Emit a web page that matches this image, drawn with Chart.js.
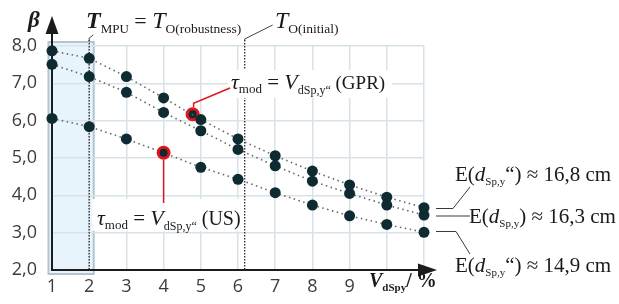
<!DOCTYPE html>
<html>
<head>
<meta charset="utf-8">
<script src="https://cdn.jsdelivr.net/npm/chart.js@4/dist/chart.umd.min.js"></script>
<style>
  html, body { margin: 0; padding: 0; background: #fff; }
</style>
</head>
<body>
<canvas id="beta-chart" width="619" height="304"></canvas>
<script>
// values
var xValues = [1, 2, 3, 4, 5, 6, 7, 8, 9, 10, 11];
var betaUpper = [7.87, 7.67, 7.18, 6.61, 6.03, 5.51, 5.06, 4.65, 4.28, 3.95, 3.67];
var betaMean = [7.51, 7.18, 6.76, 6.22, 5.73, 5.23, 4.79, 4.38, 4.05, 3.74, 3.47];
var betaLower = [6.06, 5.84, 5.51, 5.14, 4.75, 4.43, 4.07, 3.74, 3.45, 3.22, 3.01];
var gprX = [4.78];
var gprBeta = [6.17];
var usIndex = 3;
var xTickLabels = ["1", "2", "3", "4", "5", "6", "7", "8", "9"];
var yTickLabels = ["2,0", "3,0", "4,0", "5,0", "6,0", "7,0", "8,0"];
var tMpuX = 2;
var tInitialX = 6.18;

var dark = "#0e2b31";
var red = "#e3141d";
var serif = '"Liberation Serif", serif';

function points(ys) {
  return xValues.map(function (x, i) { return { x: x, y: ys[i] }; });
}

function dotted(color, width, dash) {
  return {
    showLine: true,
    borderColor: color,
    borderWidth: width,
    borderDash: dash,
    pointRadius: 5.5,
    pointBorderWidth: 0,
    pointBackgroundColor: dark,
    clip: false,
  };
}

// draws a run of text pieces: [text, font, yOffset]
function rich(ctx, x, y, parts) {
  parts.forEach(function (p) {
    ctx.font = p[1];
    ctx.fillText(p[0], x, y + (p[2] || 0));
    x += ctx.measureText(p[0]).width;
  });
  return x;
}

function line(ctx, pts) {
  ctx.beginPath();
  ctx.moveTo(pts[0][0], pts[0][1]);
  for (var i = 1; i < pts.length; i++) ctx.lineTo(pts[i][0], pts[i][1]);
  ctx.stroke();
}

var annotations = {
  id: "annotations",
  beforeDraw: function (chart) {
    var ctx = chart.ctx, xs = chart.scales.x, ys = chart.scales.y;
    var l = xs.getPixelForValue(1) - 3.5, r = xs.getPixelForValue(2) + 4.5;
    var t = ys.getPixelForValue(8) - 4, b = ys.getPixelForValue(2) + 4;
    ctx.save();
    ctx.fillStyle = "#e8f4fc";
    ctx.fillRect(l, t, r - l, b - t);
    ctx.strokeStyle = "#b2c4cd";
    ctx.lineWidth = 2;
    ctx.strokeRect(l, t, r - l, b - t);
    ctx.restore();
  },
  beforeDatasetsDraw: function (chart) {
    var ctx = chart.ctx, xs = chart.scales.x, ys = chart.scales.y;
    var left = xs.getPixelForValue(1), bottom = ys.getPixelForValue(2);
    var x2 = xs.getPixelForValue(tMpuX), x6 = xs.getPixelForValue(tInitialX);
    ctx.save();
    // marker lines
    ctx.strokeStyle = "#2a2a2a";
    ctx.lineWidth = 1.3;
    ctx.setLineDash([1.5, 1.5]);
    line(ctx, [[x2, 40], [x2, bottom]]);
    line(ctx, [[x6, 40], [x6, bottom]]);
    ctx.setLineDash([]);
    ctx.strokeStyle = "#444";
    ctx.lineWidth = 1;
    line(ctx, [[x2, 41], [x2, 38], [x2 + 4, 35]]);
    line(ctx, [[x6, 41], [x6, 39], [x6 + 28, 25]]);
    // white boxes behind the tau labels
    ctx.fillStyle = "#fff";
    ctx.fillRect(228, 70, 164, 28);
    ctx.fillRect(92, 199, 149, 32);
    // axes with arrows
    ctx.strokeStyle = "#1c1c1c";
    ctx.fillStyle = "#1c1c1c";
    ctx.lineWidth = 2;
    line(ctx, [[left, bottom + 1], [left, 30]]);
    line(ctx, [[left - 1, bottom], [422, bottom]]);
    ctx.beginPath();
    ctx.moveTo(left, 16); ctx.lineTo(left - 6.5, 34); ctx.lineTo(left + 6.5, 34); ctx.closePath(); ctx.fill();
    ctx.beginPath();
    ctx.moveTo(437, bottom); ctx.lineTo(418, bottom - 6.5); ctx.lineTo(418, bottom + 6.5); ctx.closePath(); ctx.fill();
    ctx.restore();
  },
  afterDatasetsDraw: function (chart) {
    var ctx = chart.ctx, xs = chart.scales.x, ys = chart.scales.y;
    ctx.save();
    // red leaders
    ctx.strokeStyle = red;
    ctx.lineWidth = 1.5;
    var gx = xs.getPixelForValue(gprX[0]), gy = ys.getPixelForValue(gprBeta[0]);
    line(ctx, [[gx + 1, gy - 7], [gx + 1, gy - 11], [230, 88]]);
    var ux = xs.getPixelForValue(xValues[usIndex]), uy = ys.getPixelForValue(betaLower[usIndex]);
    line(ctx, [[ux, uy + 7], [ux, 203]]);
    // grey leaders to the right labels
    ctx.strokeStyle = "#3a3a3a";
    ctx.lineWidth = 1;
    var xr = xs.getPixelForValue(11) + 12;
    line(ctx, [[xr, 208.5], [453, 208.5], [470, 187]]);
    line(ctx, [[xr, 216], [470, 216]]);
    line(ctx, [[xr, 231.5], [456, 231.5], [470, 254]]);

    ctx.fillStyle = "#1a1a1a";
    ctx.textBaseline = "alphabetic";
    rich(ctx, 28, 27, [["\u03b2", "bold italic 23px " + serif]]);
    rich(ctx, 86, 28, [
      ["T", "bold italic 24px " + serif],
      ["MPU", "13px " + serif, 5],
      [" = ", "22px " + serif],
      ["T", "italic 24px " + serif],
      ["O(robustness)", "13.5px " + serif, 5],
    ]);
    rich(ctx, 275, 28, [
      ["T", "italic 24px " + serif],
      ["O(initial)", "13.5px " + serif, 5],
    ]);
    rich(ctx, 231, 89, [
      ["\u03c4", "italic 22px " + serif],
      ["mod", "13px " + serif, 4],
      [" = ", "21px " + serif],
      ["V", "italic 22px " + serif],
      ["dSp,y\u201c", "12px " + serif, 5],
      [" (GPR)", "19px " + serif],
    ]);
    rich(ctx, 97, 225, [
      ["\u03c4", "italic 22px " + serif],
      ["mod", "13px " + serif, 4],
      [" = ", "21px " + serif],
      ["V", "italic 22px " + serif],
      ["dSp,y\u201c", "12px " + serif, 5],
      [" (US)", "20px " + serif],
    ]);
    var eLabels = [
      [455, 181, "\u201c) \u2248 16,8 cm"],
      [469, 223, ") \u2248 16,3 cm"],
      [455, 272, "\u201c) \u2248 14,9 cm"],
    ];
    eLabels.forEach(function (e) {
      rich(ctx, e[0], e[1], [
        ["E(", "21px " + serif],
        ["d", "italic 21px " + serif],
        ["Sp,y", "11px " + serif, 4],
        [e[2], "21px " + serif],
      ]);
    });
    rich(ctx, 369, 287, [
      ["V", "bold italic 20px " + serif],
      ["dSpy", "bold 11px " + serif, 4],
      ["/ %", "bold 20px " + serif],
    ]);
    ctx.restore();
  },
};

var lowerColors = betaLower.map(function (v, i) { return i === usIndex ? red : dark; });
var lowerBorders = betaLower.map(function (v, i) { return i === usIndex ? 3 : 0; });

var chart = new Chart(document.getElementById("beta-chart"), {
  type: "scatter",
  data: {
    datasets: [
      Object.assign(dotted("#666", 1.6, [1.5, 3.5]), { data: points(betaUpper) }),
      Object.assign(dotted("#666", 1.6, [1.5, 3.5]), { data: points(betaMean) }),
      Object.assign(dotted("#666", 1.6, [1.5, 3.5]), {
        data: points(betaLower),
        pointBorderColor: lowerColors,
        pointBorderWidth: lowerBorders,
      }),
      {
        data: gprX.map(function (x, i) { return { x: x, y: gprBeta[i] }; }),
        pointRadius: 5.5,
        pointBorderWidth: 3,
        pointBorderColor: red,
        pointBackgroundColor: dark,
        clip: false,
      },
    ],
  },
  options: {
    responsive: false,
    animation: false,
    devicePixelRatio: 1,
    layout: { padding: { top: 46, right: 195, left: 0, bottom: 0 } },
    plugins: { legend: { display: false }, tooltip: { enabled: false } },
    scales: {
      x: {
        type: "linear",
        min: 1,
        max: 11,
        afterFit: function (s) { s.height = 34; },
        border: { display: false },
        grid: { color: "#d7e2e9", lineWidth: 1.5, drawTicks: false },
        ticks: {
          stepSize: 1,
          padding: 6,
          color: "#3c3c3c",
          font: { family: "Open Sans", size: 18 },
          callback: function (v) { return xTickLabels[v - 1] || ""; },
        },
      },
      y: {
        min: 2,
        max: 8,
        afterFit: function (s) { s.width = 52; },
        border: { display: false },
        grid: { color: "#d7e2e9", lineWidth: 1.5, drawTicks: false },
        ticks: {
          stepSize: 1,
          padding: 15,
          color: "#3c3c3c",
          font: { family: "Open Sans", size: 18 },
          callback: function (v) { return yTickLabels[v - 2]; },
        },
      },
    },
  },
  plugins: [annotations],
});
</script>
</body>
</html>
